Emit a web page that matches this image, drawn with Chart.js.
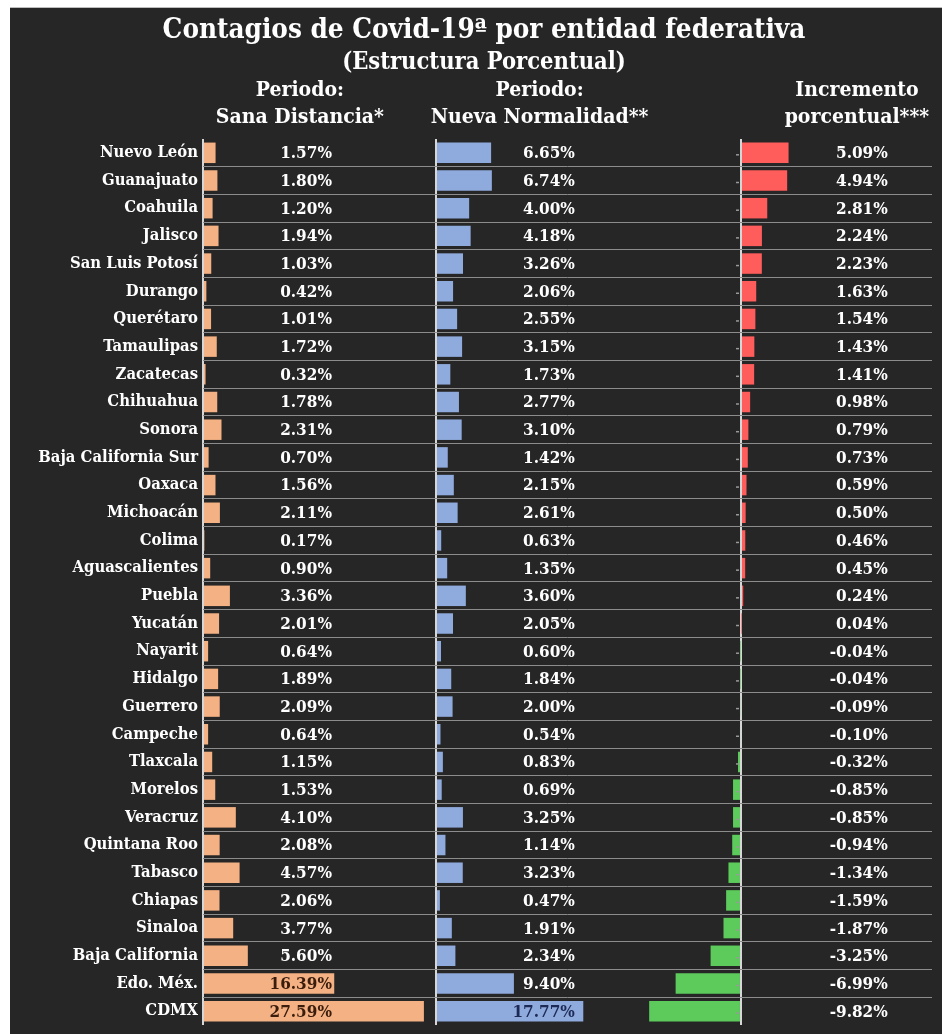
<!DOCTYPE html>
<html>
<head>
<meta charset="utf-8">
<script src="https://cdn.jsdelivr.net/npm/chart.js@4.4.1/dist/chart.umd.min.js"></script>
<style>
  html, body { margin: 0; padding: 0; background: #fff; }
  #wrap { position: absolute; left: 10px; top: 7px; width: 932px; height: 1027px;
          background: #262626; border-top: 1px solid #bdbdbd; box-sizing: border-box; }
</style>
</head>
<body>
<div id="wrap"><canvas id="chart"></canvas></div>
<script>
// Entidades federativas, en el orden del gráfico
const states = ['Nuevo León', 'Guanajuato', 'Coahuila', 'Jalisco', 'San Luis Potosí', 'Durango',
  'Querétaro', 'Tamaulipas', 'Zacatecas', 'Chihuahua', 'Sonora', 'Baja California Sur', 'Oaxaca',
  'Michoacán', 'Colima', 'Aguascalientes', 'Puebla', 'Yucatán', 'Nayarit', 'Hidalgo', 'Guerrero',
  'Campeche', 'Tlaxcala', 'Morelos', 'Veracruz', 'Quintana Roo', 'Tabasco', 'Chiapas', 'Sinaloa',
  'Baja California', 'Edo. Méx.', 'CDMX'];

// Periodo: Sana Distancia* (%)
const sanaDistancia = [1.57, 1.80, 1.20, 1.94, 1.03, 0.42, 1.01, 1.72, 0.32, 1.78, 2.31, 0.70, 1.56,
  2.11, 0.17, 0.90, 3.36, 2.01, 0.64, 1.89, 2.09, 0.64, 1.15, 1.53, 4.10, 2.08, 4.57, 2.06, 3.77,
  5.60, 16.39, 27.59];

// Periodo: Nueva Normalidad** (%)
const nuevaNormalidad = [6.65, 6.74, 4.00, 4.18, 3.26, 2.06, 2.55, 3.15, 1.73, 2.77, 3.10, 1.42, 2.15,
  2.61, 0.63, 1.35, 3.60, 2.05, 0.60, 1.84, 2.00, 0.54, 0.83, 0.69, 3.25, 1.14, 3.23, 0.47, 1.91,
  2.34, 9.40, 17.77];

// Incremento porcentual*** (puntos)
const incremento = [5.09, 4.94, 2.81, 2.24, 2.23, 1.63, 1.54, 1.43, 1.41, 0.98, 0.79, 0.73, 0.59,
  0.50, 0.46, 0.45, 0.24, 0.04, -0.04, -0.04, -0.09, -0.10, -0.32, -0.85, -0.85, -0.94, -1.34,
  -1.59, -1.87, -3.25, -6.99, -9.82];

const headers = [
  ['Periodo:', 'Sana Distancia*'],
  ['Periodo:', 'Nueva Normalidad**'],
  ['Incremento', 'porcentual***']
];

const FONT = "'DejaVu Serif Condensed', 'DejaVu Serif', serif";
const ORANGE = '#F4B183';
const BLUE = '#8FAADC';
const RED = '#FF5C5C';
const GREEN = '#5CCB5C';

// where the value labels end (right aligned) and the headers are centred, in axis units
const labelEnd = [16.1, 16.75, 15.7];
const headerAt = [12.1, 12.5, 12.4];
const darkText = ['#3a1d0c', '#1d2a55', '#000'];

// only the zero line of every column is drawn
const zeroOnly = axis => { axis.ticks = [{value: 0}]; };

function columnAxis(min, max, weight) {
  return {
    type: 'linear',
    position: 'bottom',
    stack: 'cols',
    stackWeight: weight,
    min: min,
    max: max,
    afterBuildTicks: zeroOnly,
    afterFit: axis => { axis.height = 0; },
    ticks: {display: false},
    border: {display: false},
    grid: {color: '#d6d6d6', lineWidth: 2, drawTicks: false}
  };
}

const valueLabels = {
  id: 'valueLabels',
  afterDatasetsDraw(chart) {
    const ctx = chart.ctx;
    ctx.save();
    // little tick marks left of the zero line of the last column
    const x0 = chart.scales.x3.getPixelForValue(0);
    ctx.strokeStyle = '#9a9a9a';
    ctx.lineWidth = 1.5;
    chart.getDatasetMeta(2).data.forEach(bar => {
      ctx.beginPath();
      ctx.moveTo(x0 - 5, bar.y + 2);
      ctx.lineTo(x0 - 2, bar.y + 2);
      ctx.stroke();
    });

    ctx.font = 'bold 17px ' + FONT;
    ctx.textAlign = 'right';
    ctx.textBaseline = 'middle';
    chart.data.datasets.forEach((ds, i) => {
      const meta = chart.getDatasetMeta(i);
      const scale = chart.scales[ds.xAxisID];
      const x = scale.getPixelForValue(labelEnd[i]);
      meta.data.forEach((bar, j) => {
        const v = ds.data[j];
        ctx.fillStyle = v > labelEnd[i] ? darkText[i] : '#ffffff';
        ctx.fillText(v.toFixed(2) + '%', x, bar.y + 1);
      });
    });
    // column headers
    ctx.textAlign = 'center';
    ctx.fillStyle = '#ffffff';
    ctx.font = 'bold 21px ' + FONT;
    ['x1', 'x2', 'x3'].forEach((id, i) => {
      const x = chart.scales[id].getPixelForValue(headerAt[i]);
      ctx.fillText(headers[i][0], x, 83);
      ctx.fillText(headers[i][1], x, 110);
    });
    ctx.restore();
  }
};

const ctx = document.getElementById('chart').getContext('2d');

const myChart = new Chart(ctx, {
  type: 'bar',
  data: {
    labels: states,
    datasets: [{
      label: 'Sana Distancia',
      data: sanaDistancia,
      xAxisID: 'x1',
      backgroundColor: ORANGE
    }, {
      label: 'Nueva Normalidad',
      data: nuevaNormalidad,
      xAxisID: 'x2',
      backgroundColor: BLUE
    }, {
      label: 'Incremento porcentual',
      data: incremento,
      xAxisID: 'x3',
      backgroundColor: incremento.map(v => v >= 0 ? RED : GREEN)
    }]
  },
  options: {
    indexAxis: 'y',
    responsive: true,
    maintainAspectRatio: false,
    animation: false,
    events: [],
    grouped: false,
    categoryPercentage: 1,
    barPercentage: 0.74,
    layout: {padding: {top: 0, right: 10, bottom: 9, left: 26}},
    plugins: {
      legend: {display: false},
      tooltip: {enabled: false},
      title: {
        display: true,
        text: 'Contagios de Covid-19ª por entidad federativa',
        color: '#ffffff',
        font: {family: FONT, size: 27.6, weight: 'bold', lineHeight: 1.2},
        padding: {top: 6, bottom: 0}
      },
      subtitle: {
        display: true,
        text: '(Estructura Porcentual)',
        color: '#ffffff',
        font: {family: FONT, size: 23.5, weight: 'bold', lineHeight: 1.1},
        padding: {top: 3, bottom: 63}
      }
    },
    scales: {
      x1: columnAxis(0, 29.1, 233),
      x2: columnAxis(0, 22.2, 184),
      x3: columnAxis(-12.94, 20.43, 312),
      y: {
        type: 'category',
        position: 'left',
        afterFit: scale => {
          scale.width = 167;
          // no extra room for the first/last label
          scale.paddingTop = 0;
          scale.paddingBottom = 0;
        },
        border: {display: false},
        ticks: {
          color: '#ffffff',
          padding: 5,
          font: {family: FONT, size: 16.5, weight: 'bold'}
        },
        grid: {
          offset: true,
          drawTicks: false,
          lineWidth: 1,
          color: c => (c.index > 0 && c.index < states.length) ? '#8c8c8c' : 'rgba(0,0,0,0)'
        }
      }
    }
  },
  plugins: [valueLabels]
});
</script>
</body>
</html>
